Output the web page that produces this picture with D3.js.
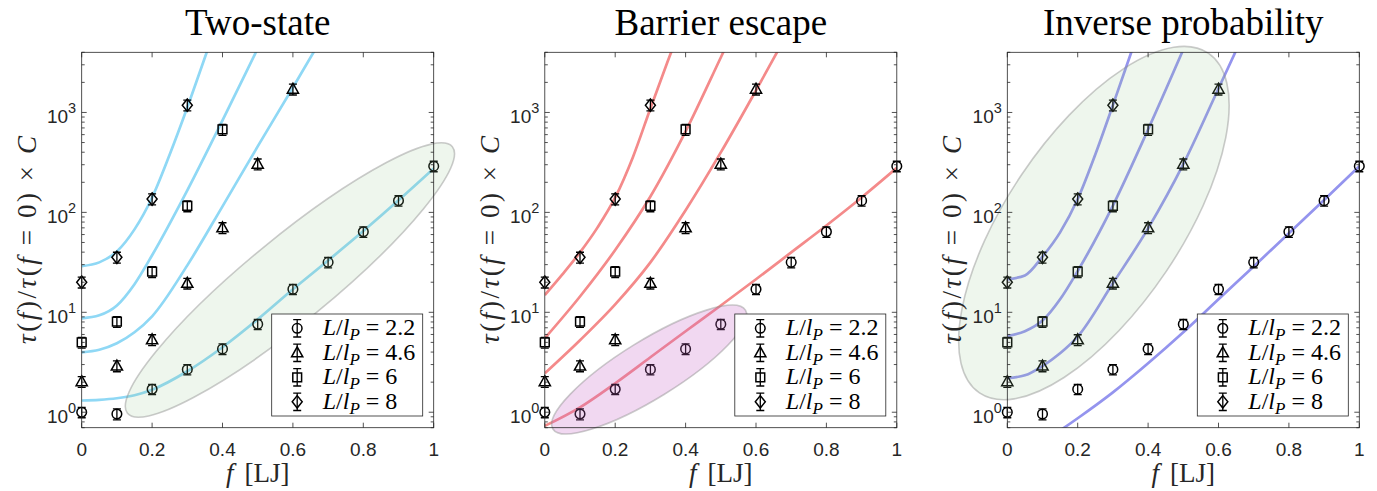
<!DOCTYPE html>
<html><head><meta charset="utf-8">
<script src="https://cdn.jsdelivr.net/npm/d3@7"></script>
<style>
body{margin:0;background:#fff}svg{display:block}
.serif{font-family:'Liberation Serif','Times New Roman',serif}
.sans{font-family:'Liberation Sans',Arial,Helvetica,sans-serif}
</style>
</head><body>
<svg id="chart" width="1377" height="491"></svg>
<script>
// ---------------- DATA ----------------
const titles = ["Two-state", "Barrier escape", "Inverse probability"];
const lpLabels = ["2.2", "4.6", "6", "8"];
const xTicks = [0, 0.2, 0.4, 0.6, 0.8, 1];
const yMajorTicks = [1, 10, 100, 1000];

// measured points (same in each panel)
const fL22 = [0, 0.1, 0.2, 0.3, 0.4, 0.5, 0.6, 0.7, 0.8, 0.9, 1.0];
const vL22 = [1.0, 0.96, 1.7, 2.68, 4.3, 7.6, 17, 31.6, 64, 131, 290];
const eL22 = [0.12, 0.12, 0.2, 0.32, 0.52, 0.9, 2.0, 3.8, 7.7, 15.7, 35];
const fL46 = [0, 0.1, 0.2, 0.3, 0.4, 0.5, 0.6];
const vL46 = [2.02, 2.9, 5.3, 19.5, 70, 304, 1710];
const eL46 = [0.25, 0.36, 0.66, 2.4, 8.7, 38, 215];
const fL6 = [0, 0.1, 0.2, 0.3, 0.4];
const vL6 = [5.0, 8.05, 25.5, 116, 676];
const eL6 = [0.62, 1.0, 3.2, 14.5, 85];
const fL8 = [0, 0.1, 0.2, 0.3];
const vL8 = [20, 35.5, 136, 1183];
const eL8 = [2.5, 4.4, 17, 148];

// fitted curves, [f, value]
const twoState22 = [[0,1.31],[0.05,1.33],[0.1,1.38],[0.15,1.48],[0.2,1.68],[0.3,2.57],[0.4,4.47],[0.5,8.5],[0.6,17],[0.7,33],[0.8,65],[0.9,132],[1.0,275]];
const twoState46 = [[0,3.98],[0.05,4.22],[0.1,4.9],[0.15,6.31],[0.2,9.12],[0.3,29.5],[0.4,115],[0.5,457],[0.6,1778],[0.7,7079]];
const twoState6  = [[0,8.71],[0.05,9.33],[0.1,11.7],[0.15,19.1],[0.2,37.2],[0.3,166],[0.4,832],[0.5,4365],[0.6,22909]];
const twoState8  = [[0,29.0],[0.05,31.6],[0.1,40.7],[0.15,67.6],[0.2,141],[0.25,380],[0.3,1122],[0.35,3548],[0.4,11220]];

const barrier22 = [[0,0.73],[0.1,1.12],[0.2,1.95],[0.3,3.55],[0.4,6.46],[0.5,11.7],[0.6,21.4],[0.7,39.8],[0.8,74],[0.9,141],[1.0,279]];
const barrier46 = [[0,2.45],[0.1,5.25],[0.2,12.0],[0.3,31.6],[0.4,105],[0.5,398],[0.6,1660],[0.7,7244]];
const barrier6  = [[0,5.5],[0.1,14.4],[0.2,42],[0.3,144],[0.4,646],[0.5,3548],[0.6,19953]];
const barrier8  = [[0,14.9],[0.05,24.0],[0.1,39.8],[0.15,70.8],[0.2,141],[0.25,355],[0.3,1096],[0.35,3311],[0.4,9550]];

const inverse22 = [[0.1,0.50],[0.2,0.87],[0.3,1.58],[0.4,3.09],[0.5,6.31],[0.6,13.5],[0.7,28.8],[0.8,61.7],[0.9,133],[1.0,290]];
const inverse46 = [[0,2.19],[0.05,2.34],[0.1,2.9],[0.15,3.89],[0.2,5.71],[0.3,19.5],[0.4,69.2],[0.5,304],[0.6,1738],[0.7,10000]];
const inverse6  = [[0,5.79],[0.05,6.46],[0.1,8.26],[0.15,13.5],[0.2,25.9],[0.3,117],[0.4,676],[0.5,4266],[0.6,28184]];
const inverse8  = [[0,21.4],[0.05,23.4],[0.1,36.1],[0.15,63.1],[0.2,136],[0.25,380],[0.3,1183],[0.35,3802],[0.4,12589]];

// ---------------- LAYOUT / STYLE ----------------
const axLeft = [81.7, 544.8, 1007.3];
const axW = 352, axTop = 52.3, axBot = 427.7;
const axisColor = "#262626";
const lineColors = ["#8fd8f5", "#f48a8a", "#9494ee"];
// ellipse annotations: tips in data coords + semi-minor (px)
const ellipses = [
  {tips: [[0.130, 0.975], [1.053, 454]], b: 42, fill: "rgb(150,200,140)", op: 0.16},
  {tips: [[0.023, 0.68], [0.570, 10.5]], b: 29, fill: "rgb(200,100,200)", op: 0.25},
  {tips: [[-0.079, 1.56], [0.571, 3917]], b: 87, fill: "rgb(150,200,140)", op: 0.16}
];

const series = [
  {f: fL22, v: vL22, e: eL22, shape: "circle"},
  {f: fL46, v: vL46, e: eL46, shape: "triangle"},
  {f: fL6,  v: vL6,  e: eL6,  shape: "square"},
  {f: fL8,  v: vL8,  e: eL8,  shape: "diamond"}
];
const fits = [
  [twoState22, twoState46, twoState6, twoState8],
  [barrier22, barrier46, barrier6, barrier8],
  [inverse22, inverse46, inverse6, inverse8]
];

const svg = d3.select("#chart");
const y = d3.scaleLog().domain([0.7, 4000]).range([axBot, axTop]);

function markerPath(shape, cx, cy) {
  const p = d3.path();
  if (shape === "circle") { p.moveTo(cx + 4.8, cy); p.arc(cx, cy, 4.8, 0, 2 * Math.PI); }
  else if (shape === "triangle") { p.moveTo(cx, cy - 6); p.lineTo(cx + 5.6, cy + 4); p.lineTo(cx - 5.6, cy + 4); p.closePath(); }
  else if (shape === "square") { p.rect(cx - 4.4, cy - 4.4, 8.8, 8.8); }
  else { p.moveTo(cx, cy - 6.2); p.lineTo(cx + 5, cy); p.lineTo(cx, cy + 6.2); p.lineTo(cx - 5, cy); p.closePath(); }
  return p.toString();
}
function drawErrMarker(g, shape, cx, y1, y2, cy) {
  const cap = 4;
  g.append("path")
    .attr("d", `M${cx},${y1}V${y2}M${cx - cap},${y1}H${cx + cap}M${cx - cap},${y2}H${cx + cap}`)
    .attr("stroke", "#000").attr("stroke-width", 1.3).attr("fill", "none");
  g.append("path").attr("d", markerPath(shape, cx, cy))
    .attr("stroke", "#000").attr("stroke-width", 1.5).attr("fill", "none");
}

titles.forEach((title, i) => {
  const L = axLeft[i], R = L + axW;
  const x = d3.scaleLinear().domain([0, 1]).range([L, R]);
  const g = svg.append("g");

  const clipId = "clip" + i;
  svg.append("clipPath").attr("id", clipId).append("rect")
    .attr("x", L).attr("y", axTop).attr("width", axW).attr("height", axBot - axTop);

  // fit curves
  const line = d3.line().x(d => x(d[0])).y(d => y(d[1])).curve(d3.curveMonotoneX);
  const cg = g.append("g").attr("clip-path", `url(#${clipId})`);
  fits[i].forEach(fd => {
    cg.append("path").attr("d", line(fd)).attr("fill", "none")
      .attr("stroke", lineColors[i]).attr("stroke-width", 2.7);
  });

  // data points
  const mg = g.append("g");
  series.forEach(s => {
    s.f.forEach((fv, k) => {
      drawErrMarker(mg, s.shape, x(fv), y(s.v[k] - s.e[k]), y(s.v[k] + s.e[k]), y(s.v[k]));
    });
  });

  // ellipse annotation
  const el = ellipses[i];
  const p1 = [x(el.tips[0][0]), y(el.tips[0][1])], p2 = [x(el.tips[1][0]), y(el.tips[1][1])];
  const cx = (p1[0] + p2[0]) / 2, cy = (p1[1] + p2[1]) / 2;
  const a = Math.hypot(p2[0] - p1[0], p2[1] - p1[1]) / 2;
  const ang = Math.atan2(p2[1] - p1[1], p2[0] - p1[0]) * 180 / Math.PI;
  g.append("ellipse").attr("cx", cx).attr("cy", cy).attr("rx", a).attr("ry", el.b)
    .attr("transform", `rotate(${ang},${cx},${cy})`)
    .attr("fill", el.fill).attr("fill-opacity", el.op)
    .attr("stroke", "rgb(140,140,140)").attr("stroke-opacity", 0.45).attr("stroke-width", 1.6);

  // axes box
  const ag = g.append("g");
  ag.append("rect").attr("x", L).attr("y", axTop).attr("width", axW).attr("height", axBot - axTop)
    .attr("fill", "none").attr("stroke", axisColor).attr("stroke-width", 0.8);

  // x ticks (inward, bottom & top)
  ag.selectAll(null).data(xTicks).enter().append("path")
    .attr("d", d => `M${x(d)},${axBot}V${axBot - 5}M${x(d)},${axTop}V${axTop + 5}`)
    .attr("stroke", axisColor).attr("stroke-width", 0.8);
  ag.selectAll(null).data(xTicks).enter().append("text").attr("class", "sans")
    .attr("x", d => x(d)).attr("y", 455.5).attr("text-anchor", "middle")
    .attr("font-size", 19).attr("fill", axisColor).text(d => d3.format("~g")(d));

  // y ticks (log, inward, left & right)
  const yTicksAll = [];
  for (let k = -1; k <= 3; k++) for (let m = 1; m <= 9; m++) {
    const v = m * Math.pow(10, k);
    if (v >= 0.7 && v <= 4000) yTicksAll.push({v, major: m === 1});
  }
  ag.selectAll(null).data(yTicksAll).enter().append("path")
    .attr("d", d => { const len = d.major ? 5 : 3; const yy = y(d.v);
      return `M${L},${yy}H${L + len}M${R},${yy}H${R - len}`; })
    .attr("stroke", axisColor).attr("stroke-width", 0.8);
  yMajorTicks.forEach(v => {
    const t = ag.append("text").attr("class", "sans").attr("x", L - 5.5).attr("y", y(v) + 10.5)
      .attr("text-anchor", "end").attr("fill", axisColor).attr("font-size", 19);
    t.append("tspan").text("10");
    t.append("tspan").attr("dy", -10).attr("font-size", 14.5).text(String(Math.round(Math.log10(v))));
  });

  // title
  svg.append("text").attr("class", "serif").attr("x", (L + R) / 2).attr("y", 35).attr("text-anchor", "middle")
    .attr("font-size", 37).attr("fill", "#000").text(title);

  // x label
  const xl = svg.append("text").attr("class", "serif").attr("x", (L + R) / 2).attr("y", 482)
    .attr("text-anchor", "middle").attr("font-size", 27).attr("fill", "#262626");
  xl.append("tspan").attr("font-style", "italic").text("f");
  xl.append("tspan").attr("dx", 11).text("[LJ]");

  // y label
  const yl = svg.append("text").attr("class", "serif")
    .attr("transform", `translate(${L - 46},${(axTop + axBot) / 2}) rotate(-90)`)
    .attr("text-anchor", "middle").attr("font-size", 27).attr("fill", "#262626")
    .attr("textLength", 208).attr("lengthAdjust", "spacing");
  [["τ", 1], ["(", 0], ["f", 1], [")/", 0], ["τ", 1], ["(", 0], ["f", 1], [" = 0) × ", 0], ["C", 1]]
    .forEach(([s, it]) => yl.append("tspan").attr("font-style", it ? "italic" : "normal").text(s));

  // legend
  const lw = 151, lh = 102;
  const lx = R - 11 - lw, ly = axBot - 11.7 - lh;
  const lg = g.append("g");
  lg.append("rect").attr("x", lx).attr("y", ly).attr("width", lw).attr("height", lh)
    .attr("fill", "#fff").attr("stroke", axisColor).attr("stroke-width", 0.8);
  series.forEach((s, k) => {
    const ry = ly + 14.3 + k * 24.5;
    drawErrMarker(lg, s.shape, lx + 25.5, ry + 8.7, ry - 8.7, ry);
    const t = lg.append("text").attr("class", "serif").attr("x", lx + 51).attr("y", ry + 7)
      .attr("font-size", 24).attr("fill", "#000");
    t.append("tspan").attr("font-style", "italic").text("L");
    t.append("tspan").text("/");
    t.append("tspan").attr("font-style", "italic").text("l");
    t.append("tspan").attr("font-style", "italic").attr("font-size", 17).attr("dy", 5).text("P");
    t.append("tspan").attr("dy", -5).text(" = " + lpLabels[k]);
  });
});
</script>
</body></html>
